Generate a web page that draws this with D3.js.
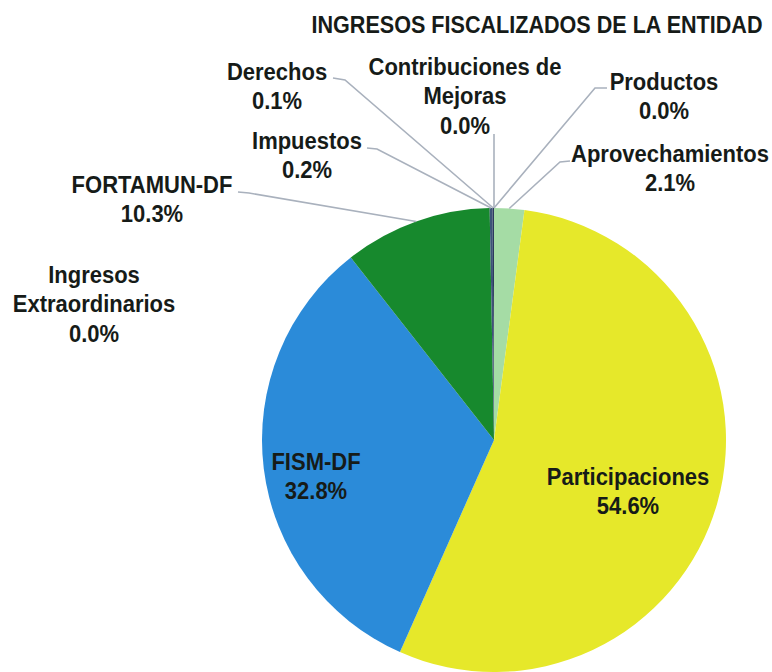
<!DOCTYPE html>
<html lang='es'>
<head>
<meta charset='utf-8'>
<title>Ingresos fiscalizados de la entidad</title>
<script src='https://cdn.jsdelivr.net/npm/d3@7'></script>
<style>
	body { margin: 0; background: #fff; }
	text { font-family: 'Liberation Sans', Arial, sans-serif; font-weight: bold; fill: #161b18; }
</style>
</head>
<body>
<script>
// datos, en el orden del pastel (sentido horario desde las 12)
var categorias = ['Productos', 'Aprovechamientos', 'Participaciones', 'FISM-DF', 'Ingresos Extraordinarios',
                  'FORTAMUN-DF', 'Impuestos', 'Derechos', 'Contribuciones de Mejoras'];
var porcentajes = [0.0, 2.1, 54.6, 32.8, 0.0, 10.3, 0.2, 0.1, 0.0];
var lineas_etiqueta = [['Productos'], ['Aprovechamientos'], ['Participaciones'], ['FISM-DF'], ['Ingresos', 'Extraordinarios'],
                       ['FORTAMUN-DF'], ['Impuestos'], ['Derechos'], ['Contribuciones de', 'Mejoras']];
var colores = ['#f0f0a0', '#a5dca5', '#e6e82a', '#2b8bd9', '#2b8bd9', '#17892d', '#3d5478', '#2c3a5c', '#888'];
var titulo = 'INGRESOS FISCALIZADOS DE LA ENTIDAD';

var width = 772, height = 672;
var cx = 494, cy = 440, radius = 232;

// posicion de cada etiqueta (centro, primera linea base) y de la linea guia
var layout = [
	{x: 664, y: 90,  guia: [[607, 88], [595, 88]]},
	{x: 670, y: 162, guia: [[570, 161], [560, 162]]},
	{x: 628, y: 485},
	{x: 316, y: 470},
	{x: 94,  y: 283},
	{x: 152, y: 193, guia: [[238, 192], [249, 193]]},
	{x: 307, y: 149, guia: [[367, 148], [377, 149]]},
	{x: 277, y: 80,  guia: [[333, 78], [345, 80]]},
	{x: 465, y: 75,  guia: [[494, 134]]}
];

var svg = d3.select('body').append('svg').attr('width', width).attr('height', height);

svg.append('text').attr('transform', 'translate(537,33) scale(1,1.12)').attr('text-anchor', 'middle')
	.attr('font-size', '22px').attr('textLength', 451).attr('lengthAdjust', 'spacingAndGlyphs')
	.text(titulo);

var pie = d3.pie().sort(null).value(d => d);
var arcs = pie(porcentajes);
var arc = d3.arc().innerRadius(0).outerRadius(radius);

var g = svg.append('g').attr('transform', 'translate(' + cx + ',' + cy + ')');
g.selectAll('path').data(arcs).enter().append('path')
	.attr('d', arc)
	.attr('fill', (d, i) => colores[i]);

// lineas guia hacia el borde del pastel
arcs.forEach(function(d, i) {
	var lay = layout[i];
	if (!lay.guia) return;
	var a = (d.startAngle + d.endAngle) / 2;
	var px = cx + radius * Math.sin(a), py = cy - radius * Math.cos(a);
	var pts = lay.guia.concat([[px, py]]);
	svg.append('path').attr('d', d3.line()(pts))
		.attr('fill', 'none').attr('stroke', '#a9b1bd').attr('stroke-width', 1.6);
});

// etiquetas (un poco estiradas en vertical, como el original)
arcs.forEach(function(d, i) {
	var lay = layout[i];
	var lineas = lineas_etiqueta[i].concat([porcentajes[i].toFixed(1) + '%']);
	var t = svg.append('text').attr('text-anchor', 'middle').attr('font-size', '22px')
		.attr('transform', 'translate(' + lay.x + ',' + lay.y + ') scale(1,1.1)');
	lineas.forEach(function(l, k) {
		t.append('tspan').attr('x', 0).attr('y', k * 29.5 / 1.1).text(l);
	});
});
</script>
</body>
</html>
